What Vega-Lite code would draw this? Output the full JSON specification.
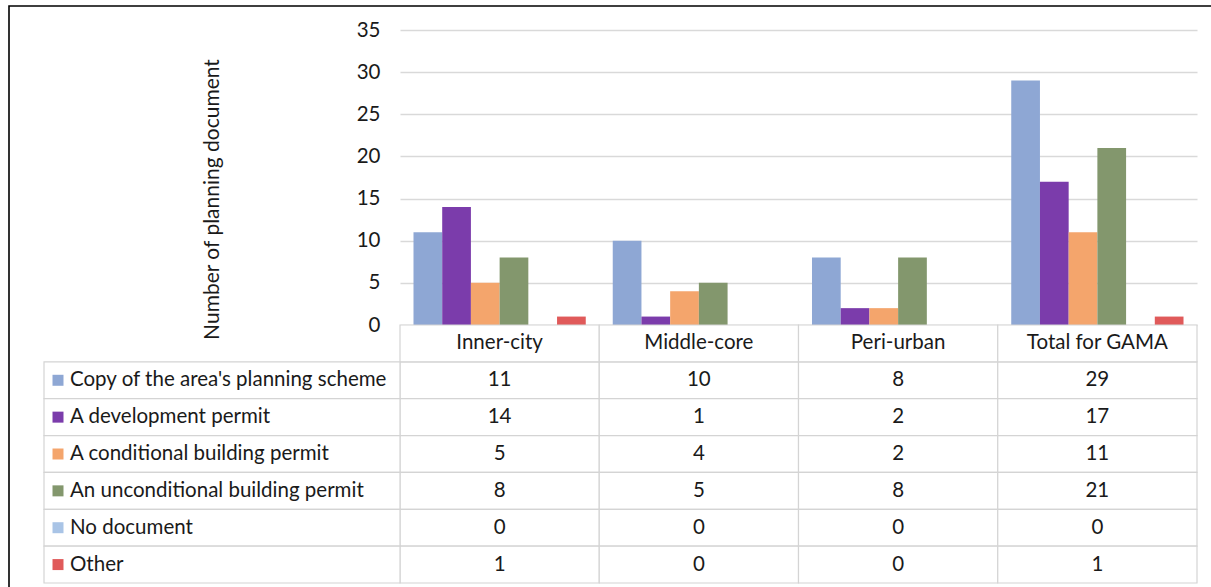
{
  "$schema": "https://vega.github.io/schema/vega-lite/v6.json",
  "width": 1202,
  "height": 581,
  "padding": {"left": 9, "top": 6, "right": 0, "bottom": 0},
  "autosize": {"type": "none"},
  "background": "white",
  "config": {
    "view": {"stroke": "#000000", "strokeWidth": 1.6, "strokeDash": [1202, 1783, 590, 2]},
    "font": "Lato",
    "text": {"font": "Lato", "fontSize": 20.5, "color": "#1a1a1a"}
  },
  "datasets": {
    "counts": [
      {"area": "Inner-city", "doc": "Copy of the area's planning scheme", "n": 11},
      {"area": "Inner-city", "doc": "A development permit", "n": 14},
      {"area": "Inner-city", "doc": "A conditional building permit", "n": 5},
      {"area": "Inner-city", "doc": "An unconditional building permit", "n": 8},
      {"area": "Inner-city", "doc": "No document", "n": 0},
      {"area": "Inner-city", "doc": "Other", "n": 1},
      {"area": "Middle-core", "doc": "Copy of the area's planning scheme", "n": 10},
      {"area": "Middle-core", "doc": "A development permit", "n": 1},
      {"area": "Middle-core", "doc": "A conditional building permit", "n": 4},
      {"area": "Middle-core", "doc": "An unconditional building permit", "n": 5},
      {"area": "Middle-core", "doc": "No document", "n": 0},
      {"area": "Middle-core", "doc": "Other", "n": 0},
      {"area": "Peri-urban", "doc": "Copy of the area's planning scheme", "n": 8},
      {"area": "Peri-urban", "doc": "A development permit", "n": 2},
      {"area": "Peri-urban", "doc": "A conditional building permit", "n": 2},
      {"area": "Peri-urban", "doc": "An unconditional building permit", "n": 8},
      {"area": "Peri-urban", "doc": "No document", "n": 0},
      {"area": "Peri-urban", "doc": "Other", "n": 0},
      {"area": "Total for GAMA", "doc": "Copy of the area's planning scheme", "n": 29},
      {"area": "Total for GAMA", "doc": "A development permit", "n": 17},
      {"area": "Total for GAMA", "doc": "A conditional building permit", "n": 11},
      {"area": "Total for GAMA", "doc": "An unconditional building permit", "n": 21},
      {"area": "Total for GAMA", "doc": "No document", "n": 0},
      {"area": "Total for GAMA", "doc": "Other", "n": 1}
    ],
    "areas": [
      {"area": "Inner-city"},
      {"area": "Middle-core"},
      {"area": "Peri-urban"},
      {"area": "Total for GAMA"}
    ],
    "docs": [
      {"doc": "Copy of the area's planning scheme"},
      {"doc": "A development permit"},
      {"doc": "A conditional building permit"},
      {"doc": "An unconditional building permit"},
      {"doc": "No document"},
      {"doc": "Other"}
    ]
  },
  "resolve": {"scale": {"x": "independent", "y": "independent"}},
  "layer": [
    {
      "data": {"name": "counts"},
      "mark": {"type": "bar"},
      "encoding": {
        "x": {
          "field": "area", "type": "nominal", "axis": null,
          "scale": {"domain": ["Inner-city", "Middle-core", "Peri-urban", "Total for GAMA"], "range": [391, 1188], "paddingInner": 0, "paddingOuter": 0}
        },
        "xOffset": {
          "field": "doc", "type": "nominal",
          "scale": {"domain": ["Copy of the area's planning scheme", "A development permit", "A conditional building permit", "An unconditional building permit", "No document", "Other"], "paddingInner": 0, "paddingOuter": 0.47}
        },
        "y": {
          "field": "n", "type": "quantitative",
          "scale": {"domain": [0, 35], "range": [319, 24], "nice": false, "zero": true},
          "axis": {
            "offset": -391,
            "values": [0, 5, 10, 15, 20, 25, 30, 35],
            "grid": true, "gridColor": "#d9d9d9", "gridWidth": 1.3,
            "domain": false, "ticks": false,
            "labelPadding": 20, "labelFontSize": 20.5, "labelColor": "#1a1a1a", "labelFont": "Lato",
            "title": "Number of planning document",
            "titleFont": "Lato", "titleFontSize": 21, "titleFontWeight": "normal", "titleColor": "#1a1a1a",
            "titleAngle": -90, "titleAlign": "center", "titleBaseline": "middle",
            "titleX": -188, "titleY": 193
          }
        },
        "color": {
          "field": "doc", "type": "nominal", "legend": null,
          "scale": {
            "domain": ["Copy of the area's planning scheme", "A development permit", "A conditional building permit", "An unconditional building permit", "No document", "Other"],
            "range": ["#8ea7d4", "#7b3cab", "#f4a56c", "#83976d", "#a9c4e6", "#e05a5a"]
          }
        }
      }
    },
    {
      "encoding": {
        "x": {
          "field": "area", "type": "nominal", "axis": null,
          "scale": {"domain": ["Inner-city", "Middle-core", "Peri-urban", "Total for GAMA"], "range": [391, 1188], "paddingInner": 0, "paddingOuter": 0}
        }
      },
      "layer": [
        {
          "data": {"name": "counts"},
          "mark": {"type": "rect", "fill": "white", "stroke": "#d4d4d4", "strokeWidth": 1.2},
          "encoding": {
            "y": {
              "field": "doc", "type": "nominal", "axis": null,
              "scale": {"domain": ["header", "Copy of the area's planning scheme", "A development permit", "A conditional building permit", "An unconditional building permit", "No document", "Other"], "range": [319, 577], "paddingInner": 0, "paddingOuter": 0}
            }
          }
        },
        {
          "data": {"name": "areas"},
          "mark": {"type": "rect", "fill": "white", "stroke": "#d4d4d4", "strokeWidth": 1.2},
          "encoding": {
            "y": {"datum": "header", "type": "nominal", "axis": null}
          }
        },
        {
          "data": {"name": "areas"},
          "mark": {"type": "text"},
          "encoding": {
            "y": {"datum": "header", "type": "nominal", "axis": null},
            "text": {"field": "area"}
          }
        },
        {
          "data": {"name": "counts"},
          "mark": {"type": "text"},
          "encoding": {
            "y": {"field": "doc", "type": "nominal", "axis": null},
            "text": {"field": "n", "type": "quantitative"}
          }
        }
      ]
    },
    {
      "data": {"name": "docs"},
      "encoding": {
        "x": {
          "datum": "legend", "type": "nominal", "axis": null, "bandPosition": 0,
          "scale": {"domain": ["legend"], "range": [35, 391], "paddingInner": 0, "paddingOuter": 0}
        },
        "y": {
          "field": "doc", "type": "nominal", "axis": null,
          "scale": {"domain": ["header", "Copy of the area's planning scheme", "A development permit", "A conditional building permit", "An unconditional building permit", "No document", "Other"], "range": [319, 577], "paddingInner": 0, "paddingOuter": 0}
        }
      },
      "layer": [
        {
          "mark": {"type": "rect", "fill": "white", "stroke": "#d4d4d4", "strokeWidth": 1.2}
        },
        {
          "mark": {"type": "square", "size": 121, "opacity": 1, "xOffset": 14},
          "encoding": {
            "color": {"field": "doc", "type": "nominal", "legend": null}
          }
        },
        {
          "mark": {"type": "text", "align": "left", "dx": 26},
          "encoding": {
            "text": {"field": "doc"}
          }
        }
      ]
    }
  ]
}
